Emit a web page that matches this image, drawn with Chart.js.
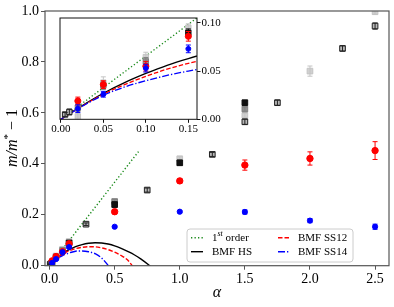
<!DOCTYPE html>
<html>
<head>
<meta charset="utf-8">
<script src="https://cdn.jsdelivr.net/npm/chart.js@4.4.1/dist/chart.umd.min.js"></script>
<style>
  body { margin: 0; background: #fff; }
  #wrap { position: relative; width: 394px; height: 307px; }
  #wrap canvas { position: absolute; }
</style>
</head>
<body>
<div id="wrap">
  <canvas id="main" width="394" height="307" style="left:0;top:0"></canvas>
  <canvas id="inset" width="190" height="130" style="left:50px;top:10px"></canvas>
</div>
<script>
/* m/m* - 1 vs alpha, main panel + zoomed inset */

// ── Data ─────────────────────────────────────────────────────────────────

var xTicksMain  = [0, 0.5, 1.0, 1.5, 2.0, 2.5];
var yTicksMain  = [0, 0.2, 0.4, 0.6, 0.8, 1.0];
var xTicksInset = [0, 0.05, 0.10, 0.15];
var yTicksInset = [0, 0.05, 0.10];

// Theory curves
var alpha1st = [0, 0.683];
var val1st   = [0, 0.448];

var alphaHS = [0, 0.02, 0.05, 0.075, 0.1, 0.125, 0.15, 0.2, 0.25, 0.3, 0.35, 0.4, 0.45, 0.5, 0.55, 0.6, 0.65, 0.7, 0.77, 0.8];
var valHS   = [0, 0.0115, 0.027, 0.038, 0.0475, 0.056, 0.063, 0.075, 0.083, 0.088, 0.090, 0.089, 0.085, 0.078, 0.068, 0.056, 0.043, 0.027, 0, -0.013];

var alphaSS12 = [0, 0.02, 0.05, 0.075, 0.1, 0.125, 0.15, 0.2, 0.25, 0.3, 0.35, 0.4, 0.45, 0.5, 0.55, 0.6, 0.635, 0.66];
var valSS12   = [0, 0.011, 0.026, 0.036, 0.0445, 0.052, 0.058, 0.067, 0.072, 0.0745, 0.074, 0.070, 0.063, 0.053, 0.040, 0.022, 0, -0.017];

var alphaSS14 = [0, 0.02, 0.05, 0.075, 0.1, 0.125, 0.15, 0.2, 0.25, 0.3, 0.35, 0.4, 0.452, 0.47];
var valSS14   = [0, 0.011, 0.025, 0.0335, 0.040, 0.0455, 0.050, 0.057, 0.058, 0.055, 0.047, 0.030, 0, -0.012];

// Simulation points (value, error)
var redAlpha = [0.02, 0.05, 0.10, 0.15, 0.5, 1.0, 1.5, 2.0, 2.5];
var redVal   = [0.019, 0.036, 0.055, 0.086, 0.212, 0.333, 0.395, 0.421, 0.452];
var redErr   = [0.004, 0.004, 0.005, 0.005, 0.008, 0.008, 0.020, 0.026, 0.035];

var blueAlpha = [0.02, 0.05, 0.10, 0.15, 0.5, 1.0, 1.5, 2.0, 2.5];
var blueVal   = [0.011, 0.026, 0.053, 0.073, 0.153, 0.212, 0.211, 0.177, 0.153];
var blueErr   = [0.004, 0.003, 0.004, 0.004, 0.004, 0.004, 0.008, 0.008, 0.010];

var blackAlpha = [0.15, 0.5, 1.0, 1.5];
var blackVal   = [0.0897, 0.240, 0.404, 0.640];
var blackErr   = [0.004, 0.010, 0.010, 0.006];

var darkAlpha = [0.005, 0.01, 0.28, 0.75, 1.25, 1.5, 1.75, 2.25, 2.5];
var darkVal   = [0.005, 0.0076, 0.163, 0.297, 0.437, 0.565, 0.640, 0.853, 0.941];
var darkErr   = [0.002, 0.003, 0.005, 0.008, 0.008, 0.010, 0.010, 0.010, 0.012];

var midAlpha = [0.02, 0.05, 0.10, 0.5, 1.5];
var midVal   = [0.012, 0.035, 0.060, 0.252, 0.615];
var midErr   = [0.004, 0.004, 0.004, 0.008, 0.008];

var lightAlpha = [0.02, 0.05, 0.10, 0.15, 1.0, 1.5, 2.0, 2.5];
var lightVal   = [0.003, 0.038, 0.0645, 0.095, 0.420, 0.590, 0.764, 0.997];
var lightErr   = [0.005, 0.006, 0.005, 0.004, 0.008, 0.008, 0.020, 0.010];

// ── Helpers ──────────────────────────────────────────────────────────────

var SERIF = '"Liberation Serif", "Times New Roman", serif';

function pts(xs, ys) {
	return xs.map(function (x, i) { return { x: x, y: ys[i] }; });
}

function lineDs(label, xs, ys, color, dash, lw, order) {
	return {
		type: 'line', label: label, data: pts(xs, ys),
		borderColor: color, borderWidth: lw, borderDash: dash,
		pointRadius: 0, fill: false, cubicInterpolationMode: 'monotone',
		clip: 0, order: order
	};
}

function pointDs(label, xs, ys, errs, style, r, face, edge, errColor, order) {
	return {
		type: 'scatter', label: label, data: pts(xs, ys), errors: errs,
		pointStyle: style, pointRadius: r, backgroundColor: face,
		borderColor: edge, borderWidth: 1, errorColor: errColor,
		clip: 0, order: order
	};
}

function buildDatasets(k) {
	return [
		lineDs('1st order', alpha1st, val1st, '#1a8a1a', [1.3, 2.2], 1.4 * k, 13),
		lineDs('BMF HS', alphaHS, valHS, '#000', [], 1.4 * k, 12),
		lineDs('BMF SS12', alphaSS12, valSS12, '#ff0000', [4.5, 2], 1.4 * k, 11),
		lineDs('BMF SS14', alphaSS14, valSS14, '#0000ff', [7, 2, 1.3, 2], 1.4 * k, 10),
		pointDs('light', lightAlpha, lightVal, lightErr, 'rect', 4 * k, '#d0d0d0', '#c4c4c4', '#c4c4c4', 6),
		pointDs('mid', midAlpha, midVal, midErr, 'rect', 4 * k, '#909090', '#808080', '#808080', 5),
		pointDs('dark', darkAlpha, darkVal, darkErr, 'rect', 4 * k, '#b8b8b8', '#222', '#222', 4),
		pointDs('black', blackAlpha, blackVal, blackErr, 'rect', 4 * k, '#111', '#111', '#111', 3),
		pointDs('red', redAlpha, redVal, redErr, 'circle', 3.2 * k, '#ff0000', '#ff0000', '#ff0000', 2),
		pointDs('blue', blueAlpha, blueVal, blueErr, 'circle', 2.6 * k, '#0000ff', '#0000ff', '#0000ff', 1)
	];
}

// ── Plugins ──────────────────────────────────────────────────────────────

var errorBars = {
	id: 'errorBars',
	afterDatasetDraw: function (chart, args) {
		var ds = chart.data.datasets[args.index];
		if (!ds.errors) return;
		var xs = chart.scales.x, ys = chart.scales.y, a = chart.chartArea, ctx = chart.ctx;
		ctx.save();
		ctx.beginPath();
		ctx.rect(a.left, a.top, a.right - a.left, a.bottom - a.top);
		ctx.clip();
		ctx.strokeStyle = ds.errorColor;
		ctx.lineWidth = 1;
		ds.data.forEach(function (p, i) {
			var x  = xs.getPixelForValue(p.x);
			var y1 = ys.getPixelForValue(p.y - ds.errors[i]);
			var y2 = ys.getPixelForValue(p.y + ds.errors[i]);
			ctx.beginPath();
			ctx.moveTo(x, y1); ctx.lineTo(x, y2);
			ctx.moveTo(x - 2.5, y1); ctx.lineTo(x + 2.5, y1);
			ctx.moveTo(x - 2.5, y2); ctx.lineTo(x + 2.5, y2);
			ctx.stroke();
		});
		ctx.restore();
	}
};

var frame = {
	id: 'frame',
	beforeDatasetsDraw: function (chart, args, opts) {
		var a = chart.chartArea, ctx = chart.ctx;
		ctx.save();
		ctx.fillStyle = '#fff';
		ctx.fillRect(a.left, a.top, a.right - a.left, a.bottom - a.top);
		ctx.restore();
	},
	afterDatasetsDraw: function (chart, args, opts) {
		var a = chart.chartArea, ctx = chart.ctx;
		ctx.save();
		ctx.strokeStyle = opts.color;
		ctx.lineWidth = opts.width;
		ctx.strokeRect(a.left, a.top, a.right - a.left, a.bottom - a.top);
		ctx.restore();
	}
};

function drawHandle(ctx, ds, x1, x2, y) {
	ctx.save();
	ctx.strokeStyle = ds.borderColor;
	ctx.lineWidth = ds.borderWidth;
	ctx.setLineDash(ds.borderDash || []);
	ctx.beginPath();
	ctx.moveTo(x1, y); ctx.lineTo(x2, y);
	ctx.stroke();
	ctx.restore();
}

var labels = {
	id: 'labels',
	afterDraw: function (chart) {
		var ctx = chart.ctx;
		ctx.save();
		ctx.fillStyle = '#000';
		ctx.textBaseline = 'middle';

		// x label
		ctx.textAlign = 'center';
		ctx.font = 'italic 16px ' + SERIF;
		ctx.fillText('\u03b1', 217, 293);

		// y label: m/m* − 1
		ctx.save();
		ctx.translate(13, 138);
		ctx.rotate(-Math.PI / 2);
		ctx.textAlign = 'left';
		var parts = [
			{ t: 'm/m', f: 'italic 16px ' + SERIF, dy: 0 },
			{ t: '*', f: '11px ' + SERIF, dy: -5 },
			{ t: ' \u2212 1', f: '16px ' + SERIF, dy: 0 }
		];
		var total = 0;
		parts.forEach(function (p) { ctx.font = p.f; p.w = ctx.measureText(p.t).width; total += p.w; });
		var x = -total / 2;
		parts.forEach(function (p) { ctx.font = p.f; ctx.fillText(p.t, x, p.dy); x += p.w; });
		ctx.restore();

		// legend
		var ds = chart.data.datasets;
		var bx = 187, by = 229, bw = 166, bh = 33, r = 3;
		ctx.beginPath();
		ctx.moveTo(bx + r, by);
		ctx.arcTo(bx + bw, by, bx + bw, by + bh, r);
		ctx.arcTo(bx + bw, by + bh, bx, by + bh, r);
		ctx.arcTo(bx, by + bh, bx, by, r);
		ctx.arcTo(bx, by, bx + bw, by, r);
		ctx.closePath();
		ctx.fillStyle = 'rgba(255,255,255,0.85)';
		ctx.fill();
		ctx.strokeStyle = '#cccccc';
		ctx.lineWidth = 1;
		ctx.stroke();

		var slots = [
			{ i: 0, hx: 191, tx: 212, y: 237.7 },
			{ i: 1, hx: 191, tx: 212, y: 251.7 },
			{ i: 2, hx: 278, tx: 298, y: 237.7 },
			{ i: 3, hx: 278, tx: 298, y: 251.7 }
		];
		ctx.fillStyle = '#000';
		ctx.textAlign = 'left';
		slots.forEach(function (s) {
			var d = ds[s.i];
			drawHandle(ctx, d, s.hx, s.hx + 12, s.y);
			var label = d.label;
			if (label.indexOf('1st') === 0) {
				ctx.font = '11px ' + SERIF;
				ctx.fillText('1', s.tx, s.y);
				var w1 = ctx.measureText('1').width;
				ctx.font = 'italic 8px ' + SERIF;
				ctx.fillText('st', s.tx + w1, s.y - 3.5);
				var w2 = ctx.measureText('st').width;
				ctx.font = '11px ' + SERIF;
				ctx.fillText(label.slice(3), s.tx + w1 + w2, s.y);
			} else {
				ctx.font = '11px ' + SERIF;
				ctx.fillText(label, s.tx, s.y);
			}
		});
		ctx.restore();
	}
};

function fixedTicks(list) {
	return function (scale) { scale.ticks = list.map(function (v) { return { value: v }; }); };
}

// ── Main chart ───────────────────────────────────────────────────────────

new Chart(document.getElementById('main'), {
	type: 'scatter',
	data: { datasets: buildDatasets(1) },
	plugins: [frame, errorBars, labels],
	options: {
		responsive: false,
		animation: false,
		events: [],
		layout: { padding: { top: 11, right: 5, left: 0, bottom: 0 } },
		plugins: {
			legend: { display: false },
			tooltip: { enabled: false },
			frame: { color: '#555', width: 1.2 }
		},
		scales: {
			x: {
				type: 'linear', min: -0.035, max: 2.607,
				afterBuildTicks: fixedTicks(xTicksMain),
				afterFit: function (s) { s.height = 41.3; },
				grid: { drawOnChartArea: false, tickLength: 4, color: '#555' },
				border: { display: false },
				ticks: { color: '#000', padding: 1, maxRotation: 0, autoSkip: false,
					font: { family: SERIF, size: 14 },
					callback: function (v) { return v.toFixed(1); } }
			},
			y: {
				type: 'linear', min: 0, max: 1,
				afterBuildTicks: fixedTicks(yTicksMain),
				afterFit: function (s) { s.width = 45; },
				grid: { drawOnChartArea: false, tickLength: 4, color: '#555' },
				border: { display: false },
				ticks: { color: '#000', padding: 2, autoSkip: false,
					font: { family: SERIF, size: 14 },
					callback: function (v) { return v.toFixed(1); } }
			}
		}
	}
});

// ── Inset ────────────────────────────────────────────────────────────────

new Chart(document.getElementById('inset'), {
	type: 'scatter',
	data: { datasets: buildDatasets(0.95) },
	plugins: [frame, errorBars],
	options: {
		responsive: false,
		animation: false,
		events: [],
		layout: { padding: { top: 8, right: 0, left: 10, bottom: 0 } },
		plugins: {
			legend: { display: false },
			tooltip: { enabled: false },
			frame: { color: '#111', width: 1 }
		},
		scales: {
			x: {
				type: 'linear', min: -0.001, max: 0.1602,
				afterBuildTicks: fixedTicks(xTicksInset),
				afterFit: function (s) { s.height = 20.7; },
				grid: { drawOnChartArea: false, tickLength: 3.5, color: '#111' },
				border: { display: false },
				ticks: { color: '#000', padding: 0, maxRotation: 0, autoSkip: false,
					font: { family: SERIF, size: 11 },
					callback: function (v) { return v.toFixed(2); } }
			},
			y: {
				type: 'linear', position: 'right', min: 0, max: 0.105,
				afterBuildTicks: fixedTicks(yTicksInset),
				afterFit: function (s) { s.width = 43; },
				grid: { drawOnChartArea: false, tickLength: 3.5, color: '#111' },
				border: { display: false },
				ticks: { color: '#000', padding: 1, autoSkip: false,
					font: { family: SERIF, size: 11 },
					callback: function (v) { return v.toFixed(2); } }
			}
		}
	}
});
</script>
</body>
</html>
